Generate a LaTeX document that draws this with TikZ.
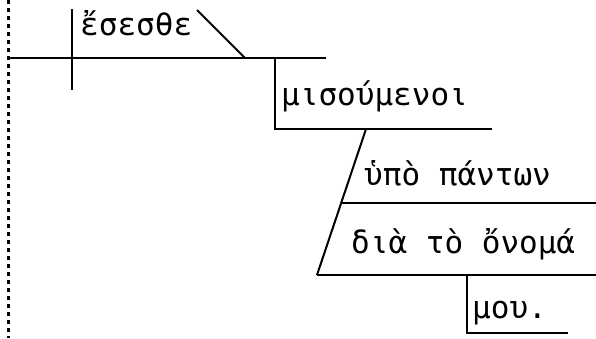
\documentclass[tikz,border=0pt]{standalone}
\usepackage{fontspec}
\newfontfamily\grk{DejaVu Sans Mono}
\begin{document}
\begin{tikzpicture}[x=1bp,y=-1bp,
  rule/.style={line width=2bp},
  word/.style={anchor=base west,inner sep=0pt,font=\grk\fontsize{31bp}{36bp}\selectfont},
  margin/.style={line width=3bp,dash pattern=on 4bp off 4bp}]
\useasboundingbox (0,0) rectangle (596,338);
% margin line
\draw[margin] (8,0) -- (8,338);
% subject/predicate base line
\coordinate (l0) at (8,58);
\coordinate (l1) at (326,58);
\draw[rule] (l0) -- (l1);
\draw[rule] (72,9) -- (72,90);
\node[word] (v) at (80,35) {ἔσεσθε};
\draw[rule] (197,10) -- (245,58);
% participle
\coordinate (p0) at (275,58);
\coordinate (p1) at (275,129);
\coordinate (p2) at (492,129);
\draw[rule] (p0) -- (p1) -- (p2);
\node[word] (m) at (281,105) {μισούμενοι};
% prepositional phrases
\coordinate (s0) at (366,129);
\coordinate (s1) at (342,203);
\coordinate (s2) at (317,275);
\draw[rule] (s0) -- (s2);
\draw[rule] (s1) -- (596,203);
\node[word] (u) at (364,185) {ὑπὸ πάντων};
\draw[rule] (s2) -- (596,275);
\node[word] (d) at (351,253) {διὰ τὸ ὄνομά};
% genitive
\coordinate (g0) at (467,275);
\coordinate (g1) at (467,333);
\coordinate (g2) at (568,333);
\draw[rule] (g0) -- (g1) -- (g2);
\node[word] (mu) at (472,318) {μου.};
\end{tikzpicture}
\end{document}
